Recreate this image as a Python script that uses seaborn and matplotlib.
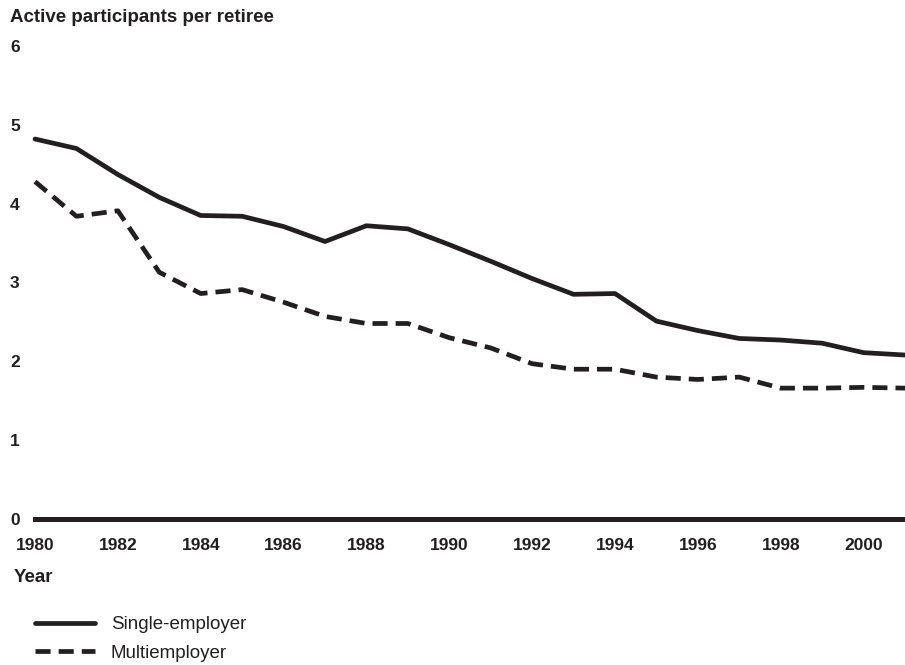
import pandas as pd
import matplotlib
matplotlib.use("Agg")
import matplotlib.pyplot as plt
from matplotlib.lines import Line2D
import seaborn as sns

years = list(range(1980, 2002))
single_employer = [4.82, 4.70, 4.37, 4.08, 3.85, 3.84, 3.71, 3.52, 3.72, 3.68, 3.48,
                   3.27, 3.05, 2.85, 2.86, 2.51, 2.39, 2.29, 2.27, 2.23, 2.11, 2.08]
multiemployer = [4.28, 3.84, 3.91, 3.13, 2.86, 2.91, 2.75, 2.57, 2.48, 2.48, 2.30,
                 2.17, 1.97, 1.90, 1.90, 1.80, 1.77, 1.80, 1.66, 1.66, 1.67, 1.66]
series_names = ["Single-employer", "Multiemployer"]
x_ticks = list(range(1980, 2001, 2))
y_ticks = [0, 1, 2, 3, 4, 5, 6]

df = pd.DataFrame({
    "Year": years * 2,
    "Ratio": single_employer + multiemployer,
    "Plan": [series_names[0]] * len(years) + [series_names[1]] * len(years),
})

sns.set_style("white")
plt.rcParams["font.family"] = ["Liberation Sans", "DejaVu Sans"]

ink = "#231f20"
fig = plt.figure(figsize=(9.05, 6.65), dpi=100)
ax = fig.add_axes([35 / 905, 146 / 665, 870 / 905, 473 / 665])

# две линии: сплошная и пунктирная
sns.lineplot(data=df, x="Year", y="Ratio", style="Plan", ax=ax,
             color=ink, linewidth=3.4,
             dashes={series_names[0]: "", series_names[1]: (3.2, 1.7)},
             legend=False)
for line in ax.lines:
    line.set_clip_on(False)

ax.set_xlim(1980, 2001)
ax.set_ylim(0, 6)
ax.set_xticks(x_ticks)
ax.set_xticklabels([str(t) for t in x_ticks], fontsize=12.5, fontweight="bold")
ax.set_yticks(y_ticks)
ax.set_yticklabels([str(t) for t in y_ticks], fontsize=12.5, fontweight="bold")
ax.tick_params(axis="x", length=0, pad=14, colors=ink)
ax.tick_params(axis="y", length=0, pad=11, colors=ink)
ax.set_xlabel("")
ax.set_ylabel("")

for s in ["top", "right", "left"]:
    ax.spines[s].set_visible(False)
ax.spines["bottom"].set_linewidth(3.6)
ax.spines["bottom"].set_color(ink)

fig.text(10 / 905, 1 - 17 / 665, "Active participants per retiree",
         fontsize=13.5, fontweight="bold", va="center", ha="left", color=ink)
fig.text(14 / 905, 1 - 577 / 665, "Year",
         fontsize=13.5, fontweight="bold", va="center", ha="left", color=ink)

handles = [Line2D([], [], color=ink, lw=3.4),
           Line2D([], [], color=ink, lw=3.4, dashes=(3.2, 1.7))]
leg = ax.legend(handles, series_names, loc="upper left",
                bbox_to_anchor=(35 / 905, 1 - 616 / 665), bbox_transform=fig.transFigure,
                frameon=False, fontsize=13.5, handlelength=3.2, handletextpad=0.85,
                borderaxespad=0, borderpad=0, labelspacing=0.62)
for t in leg.get_texts():
    t.set_color(ink)

fig.savefig("out.png", dpi=100, facecolor="white")
